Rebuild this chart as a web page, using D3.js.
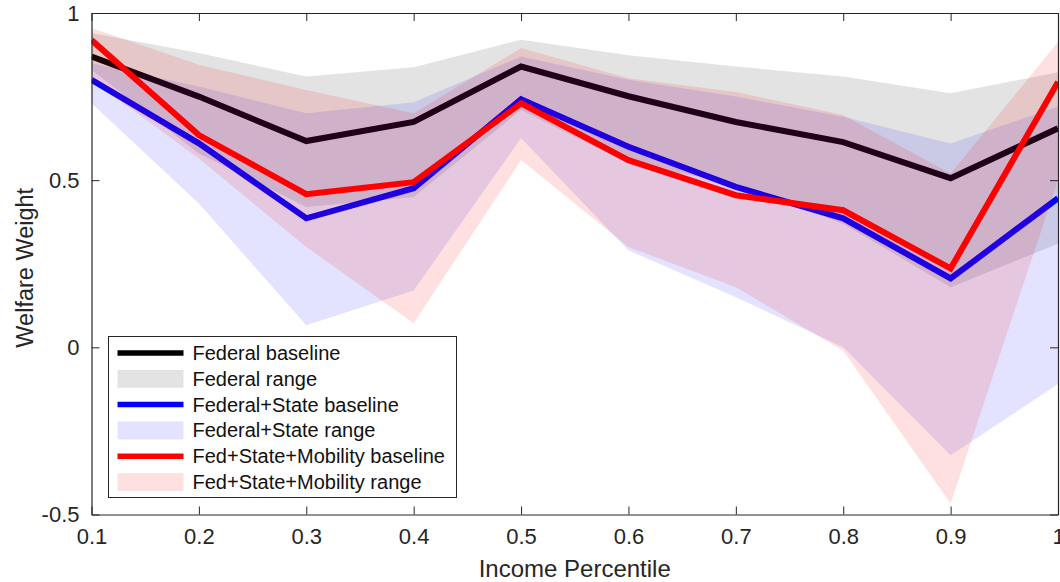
<!DOCTYPE html>
<html>
<head>
<meta charset="utf-8">
<script src="https://cdn.jsdelivr.net/npm/d3@7"></script>
<style>
body { margin: 0; background: #fff; }
svg { display: block; font-family: "Liberation Sans", Arial, Helvetica, sans-serif; }
</style>
</head>
<body>
<div id="chart"></div>
<script>
// income percentiles
var pct = [0.1, 0.2, 0.3, 0.4, 0.5, 0.6, 0.7, 0.8, 0.9, 1.0];

// Federal
var fedBase = [0.87, 0.75, 0.617, 0.674, 0.84, 0.751, 0.674, 0.614, 0.506, 0.655];
var fedLo   = [0.83, 0.58, 0.42, 0.45, 0.71, 0.55, 0.49, 0.37, 0.18, 0.31];
var fedHi   = [0.94, 0.88, 0.81, 0.838, 0.92, 0.874, 0.84, 0.81, 0.76, 0.823];

// Federal+State
var fsBase = [0.80, 0.61, 0.386, 0.476, 0.742, 0.60, 0.48, 0.386, 0.206, 0.446];
var fsLo   = [0.73, 0.43, 0.066, 0.17, 0.626, 0.29, 0.15, 0.0, -0.323, -0.11];
var fsHi   = [0.85, 0.78, 0.70, 0.733, 0.87, 0.80, 0.75, 0.69, 0.61, 0.72];

// Fed+State+Mobility
var fsmBase = [0.919, 0.635, 0.458, 0.494, 0.73, 0.56, 0.455, 0.41, 0.236, 0.794];
var fsmLo   = [0.80, 0.565, 0.30, 0.072, 0.56, 0.30, 0.18, -0.01, -0.467, 0.50];
var fsmHi   = [0.955, 0.845, 0.77, 0.70, 0.895, 0.805, 0.764, 0.695, 0.52, 0.913];

var xTicks = [0.1, 0.2, 0.3, 0.4, 0.5, 0.6, 0.7, 0.8, 0.9, 1];
var yTicks = [-0.5, 0, 0.5, 1];

var legendNames = ['Federal baseline', 'Federal range', 'Federal+State baseline',
    'Federal+State range', 'Fed+State+Mobility baseline', 'Fed+State+Mobility range'];

var W = 1060, H = 582;
var pLeft = 91.5, pRight = 1058, pTop = 13, pBottom = 514.5;
var axisColor = '#262626';

var svg = d3.select('#chart').append('svg')
    .attr('width', W)
    .attr('height', H);

var x = d3.scaleLinear().domain([0.1, 1]).range([pLeft, pRight]);
var y = d3.scaleLinear().domain([-0.5, 1]).range([pBottom, pTop]);

var area = function(lo, hi){
    return d3.area()
        .x(function(d, i){ return x(pct[i]); })
        .y0(function(d, i){ return y(lo[i]); })
        .y1(function(d, i){ return y(hi[i]); })(pct);
};
var line = function(vals){
    return d3.line()
        .x(function(d, i){ return x(pct[i]); })
        .y(function(d){ return y(d); })(vals);
};

svg.append('clipPath').attr('id', 'clip')
    .append('rect').attr('x', pLeft).attr('y', pTop)
    .attr('width', pRight - pLeft).attr('height', pBottom - pTop);
var g = svg.append('g').attr('clip-path', 'url(#clip)');

// drawing order matters: later bands tint earlier lines
var layers = [
    { type: 'band', lo: fedLo, hi: fedHi, color: '#000', op: 0.11 },
    { type: 'line', vals: fedBase, color: '#000' },
    { type: 'band', lo: fsLo, hi: fsHi, color: '#00f', op: 0.11 },
    { type: 'line', vals: fsBase, color: '#00f' },
    { type: 'band', lo: fsmLo, hi: fsmHi, color: '#f00', op: 0.12 },
    { type: 'line', vals: fsmBase, color: '#f00' }
];
layers.forEach(function(l){
    if( l.type == 'band' ){
        g.append('path').attr('d', area(l.lo, l.hi))
            .attr('fill', l.color).attr('fill-opacity', l.op);
    } else {
        g.append('path').attr('d', line(l.vals))
            .attr('fill', 'none').attr('stroke', l.color)
            .attr('stroke-width', 6).attr('stroke-linejoin', 'miter');
    }
});

// axes box
var fmt = function(d){ return d == 1 ? '1' : String(d); };
var xAxis = svg.append('g').attr('transform', 'translate(0,' + pBottom + ')')
    .call(d3.axisBottom(x).tickValues(xTicks).tickSizeInner(-8).tickSizeOuter(0)
        .tickPadding(14).tickFormat(fmt));
var xTop = svg.append('g').attr('transform', 'translate(0,' + pTop + ')')
    .call(d3.axisTop(x).tickValues(xTicks).tickSizeInner(-8).tickSizeOuter(0)
        .tickFormat(''));
var yAxis = svg.append('g').attr('transform', 'translate(' + pLeft + ',0)')
    .call(d3.axisLeft(y).tickValues(yTicks).tickSizeInner(-8).tickSizeOuter(0)
        .tickPadding(12).tickFormat(fmt));
var yRight = svg.append('g').attr('transform', 'translate(' + pRight + ',0)')
    .call(d3.axisRight(y).tickValues(yTicks).tickSizeInner(-8).tickSizeOuter(0)
        .tickFormat(''));

[xAxis, xTop, yAxis, yRight].forEach(function(a){
    a.select('.domain').attr('stroke', axisColor).attr('stroke-width', 1.2);
    a.selectAll('.tick line').attr('stroke', axisColor).attr('stroke-width', 1);
    a.selectAll('.tick text').attr('fill', axisColor).style('font-size', '22px')
        .style('font-family', '"Liberation Sans", Arial, Helvetica, sans-serif');
});

// axis labels
svg.append('text')
    .attr('x', (pLeft + pRight) / 2).attr('y', 577)
    .attr('text-anchor', 'middle').attr('fill', axisColor)
    .style('font-size', '24px')
    .text('Income Percentile');
svg.append('text')
    .attr('transform', 'translate(33,' + ((pTop + pBottom) / 2 + 4) + ') rotate(-90)')
    .attr('text-anchor', 'middle').attr('fill', axisColor)
    .style('font-size', '23.5px')
    .text('Welfare Weight');

// legend
var legendKeys = [
    { type: 'line', color: '#000' },
    { type: 'band', color: '#000', op: 0.11 },
    { type: 'line', color: '#00f' },
    { type: 'band', color: '#00f', op: 0.11 },
    { type: 'line', color: '#f00' },
    { type: 'band', color: '#f00', op: 0.12 }
];
var lg = svg.append('g').attr('transform', 'translate(108.5,336.5)');
lg.append('rect').attr('width', 348).attr('height', 161)
    .attr('fill', '#fff').attr('stroke', axisColor).attr('stroke-width', 1);
var rows = lg.selectAll('g.row')
    .data(legendNames)
    .enter()
    .append('g')
    .attr('class', 'row')
    .attr('transform', function(d, i){ return 'translate(0,' + (16.5 + i * 25.8) + ')'; });
rows.each(function(d, i){
    var k = legendKeys[i];
    var r = d3.select(this);
    if( k.type == 'line' ){
        r.append('line').attr('x1', 9).attr('x2', 75).attr('y1', 0).attr('y2', 0)
            .attr('stroke', k.color).attr('stroke-width', 5.5);
    } else {
        r.append('rect').attr('x', 9).attr('width', 66).attr('y', -9).attr('height', 18)
            .attr('fill', k.color).attr('fill-opacity', k.op);
    }
    r.append('text').attr('x', 84).attr('y', 7)
        .attr('fill', '#111').style('font-size', '20px')
        .text(d);
});
</script>
</body>
</html>
